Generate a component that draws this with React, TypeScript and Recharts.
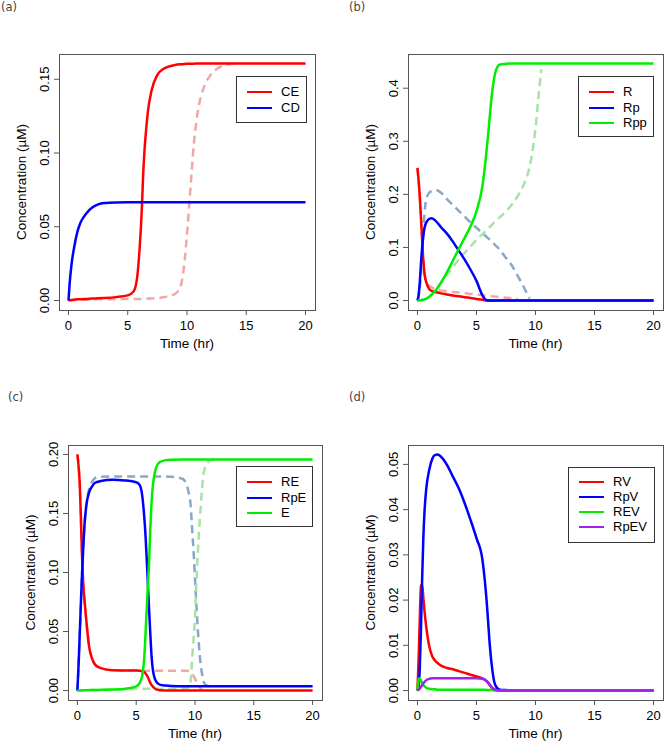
import React from "react";
import { LineChart, Line, XAxis, YAxis, Label } from "recharts";

// ---------- (a) cyclins ----------
const timeA = [0, 0.1, 0.25, 0.5, 0.75, 1, 1.5, 2, 2.5, 3, 4, 5, 5.5, 5.8, 6, 6.1, 6.2, 6.3, 6.4, 6.5, 6.7, 7, 7.5, 8, 9, 9.5, 9.8, 10, 10.2, 10.4, 10.6, 10.8, 11, 11.5, 12, 13, 14, 16, 20];
const ceA = [0, 0.0002, 0.0004, 0.0006, 0.0008, 0.0009, 0.0011, 0.0013, 0.0015, 0.0017, 0.0023, 0.0035, 0.0062, 0.016, 0.035, 0.048, 0.064, 0.085, 0.1, 0.111, 0.128, 0.142, 0.153, 0.157, 0.1597, 0.1602, 0.1604, 0.1605, 0.1606, 0.1606, 0.1606, 0.1607, 0.1607, 0.1607, 0.1607, 0.1607, 0.1607, 0.1607, 0.1607];
const cdA = [0, 0.0116, 0.024, 0.037, 0.0465, 0.0525, 0.059, 0.063, 0.0652, 0.0661, 0.0665, 0.0666, 0.0666, 0.0666, 0.0666, 0.0666, 0.0666, 0.0666, 0.0666, 0.0666, 0.0666, 0.0666, 0.0666, 0.0666, 0.0666, 0.0666, 0.0666, 0.0666, 0.0666, 0.0666, 0.0666, 0.0666, 0.0666, 0.0666, 0.0666, 0.0666, 0.0666, 0.0666, 0.0666];
const ceDashA = [0, 0.0001, 0.0002, 0.0003, 0.0004, 0.0005, 0.0006, 0.0007, 0.0008, 0.0008, 0.0009, 0.001, 0.001, 0.0011, 0.0011, 0.0011, 0.0012, 0.0012, 0.0012, 0.0012, 0.0013, 0.0014, 0.0016, 0.0022, 0.0045, 0.011, 0.027, 0.045, 0.066, 0.088, 0.108, 0.122, 0.132, 0.146, 0.153, 0.159, 0.1606, null, null];

// ---------- (b) receptor ----------
const timeB = [0, 0.1, 0.2, 0.3, 0.4, 0.5, 0.6, 0.8, 1, 1.2, 1.5, 2, 2.5, 3, 3.5, 4, 4.5, 5, 5.5, 5.8, 6, 6.2, 6.4, 6.6, 6.8, 7, 7.5, 8, 8.5, 9, 9.3, 9.5, 9.7, 10, 10.3, 10.5, 12, 15, 20];
const rB = [0.25, 0.226, 0.195, 0.155, 0.113, 0.075, 0.05, 0.031, 0.0214, 0.018, 0.016, 0.0135, 0.0115, 0.0095, 0.008, 0.0063, 0.0047, 0.003, 0.0013, 0.0004, 0, 0, 0, 0, 0, 0, 0, 0, 0, 0, 0, 0, 0, 0, 0, 0, 0, 0, 0];
const rpB = [0, 0.01, 0.035, 0.07, 0.1, 0.122, 0.137, 0.149, 0.154, 0.155, 0.151, 0.138, 0.126, 0.111, 0.094, 0.077, 0.058, 0.037, 0.01, 0.001, 0, 0, 0, 0, 0, 0, 0, 0, 0, 0, 0, 0, 0, 0, 0, 0, 0, 0, 0];
const rppB = [0, 0.0001, 0.0003, 0.0006, 0.001, 0.0015, 0.0022, 0.004, 0.007, 0.011, 0.018, 0.034, 0.053, 0.075, 0.097, 0.118, 0.14, 0.168, 0.215, 0.27, 0.315, 0.365, 0.405, 0.43, 0.441, 0.4447, 0.446, 0.4465, 0.4466, 0.4466, 0.4466, 0.4466, 0.4466, 0.4466, 0.4466, 0.4466, 0.4466, 0.4466, 0.4466];
const rDashB = [0.25, 0.226, 0.195, 0.155, 0.113, 0.075, 0.051, 0.034, 0.028, 0.025, 0.021, 0.019, 0.0175, 0.0162, 0.015, 0.0138, 0.0125, 0.0113, 0.01, 0.0093, 0.0088, 0.0083, 0.0078, 0.0074, 0.007, 0.0065, 0.0054, 0.0042, 0.0028, null, null, null, null, null, null, null, null, null, null];
const rpDashB = [0, 0.008, 0.025, 0.05, 0.09, 0.13, 0.165, 0.195, 0.203, 0.206, 0.2085, 0.203, 0.191, 0.18, 0.169, 0.158, 0.147, 0.137, 0.127, 0.121, 0.117, 0.113, 0.109, 0.104, 0.1, 0.095, 0.08, 0.066, 0.046, 0.026, 0.012, 0.004, null, null, null, null, null, null, null];
const rppDashB = [0, 0.0001, 0.0003, 0.0006, 0.001, 0.0015, 0.0022, 0.004, 0.007, 0.011, 0.018, 0.033, 0.048, 0.063, 0.077, 0.09, 0.102, 0.114, 0.125, 0.131, 0.136, 0.14, 0.145, 0.149, 0.153, 0.157, 0.168, 0.181, 0.197, 0.218, 0.235, 0.252, 0.275, 0.325, 0.395, 0.436, null, null, null];

// ---------- (c) receptor-effector ----------
const timeC = [0, 0.1, 0.2, 0.3, 0.4, 0.5, 0.6, 0.75, 1, 1.25, 1.5, 2, 3, 4, 5, 5.3, 5.5, 5.7, 5.8, 5.9, 6, 6.1, 6.2, 6.3, 6.4, 6.5, 6.7, 7, 7.5, 8, 9, 9.3, 9.5, 9.6, 9.7, 9.8, 9.9, 10, 10.1, 10.2, 10.3, 10.4, 10.5, 10.6, 10.7, 10.8, 11, 11.5, 12, 14, 17, 20];
const reC = [0.2, 0.19, 0.175, 0.145, 0.112, 0.09, 0.077, 0.06, 0.037, 0.027, 0.022, 0.019, 0.0172, 0.017, 0.0169, 0.0168, 0.0165, 0.0155, 0.0145, 0.013, 0.011, 0.0088, 0.0065, 0.0048, 0.0035, 0.0025, 0.001, 0.0003, 0.0001, 0, 0, 0, 0, 0, 0, 0, 0, 0, 0, 0, 0, 0, 0, 0, 0, 0, 0, 0, 0, 0, 0, 0];
const rpeC = [0, 0.022, 0.048, 0.075, 0.1, 0.122, 0.14, 0.156, 0.168, 0.173, 0.176, 0.1775, 0.1785, 0.178, 0.1765, 0.174, 0.166, 0.145, 0.13, 0.11, 0.089, 0.068, 0.048, 0.03, 0.019, 0.013, 0.0075, 0.005, 0.0042, 0.0038, 0.0036, 0.0036, 0.0036, 0.0036, 0.0036, 0.0036, 0.0036, 0.0036, 0.0036, 0.0036, 0.0036, 0.0036, 0.0036, 0.0036, 0.0036, 0.0036, 0.0036, 0.0036, 0.0036, 0.0036, 0.0036, 0.0036];
const eC = [0, 0, 0.0001, 0.0001, 0.0002, 0.0002, 0.0003, 0.0003, 0.0004, 0.0005, 0.0005, 0.0006, 0.0008, 0.0014, 0.0035, 0.0065, 0.012, 0.03, 0.05, 0.07, 0.09, 0.11, 0.137, 0.158, 0.172, 0.18, 0.189, 0.1935, 0.1952, 0.1956, 0.1958, 0.1958, 0.1958, 0.1958, 0.1958, 0.1958, 0.1958, 0.1958, 0.1958, 0.1958, 0.1958, 0.1958, 0.1958, 0.1958, 0.1958, 0.1958, 0.1958, 0.1958, 0.1958, 0.1958, 0.1958, 0.1958];
const reDashC = [0.2, 0.19, 0.175, 0.145, 0.112, 0.09, 0.077, 0.06, 0.037, 0.027, 0.022, 0.019, 0.0172, 0.017, 0.0169, 0.0168, 0.0168, 0.0168, 0.0168, 0.0168, 0.0168, 0.0168, 0.0168, 0.0168, 0.0168, 0.0168, 0.0168, 0.0168, 0.0168, 0.0168, 0.0168, 0.0168, 0.0166, 0.016, 0.015, 0.0135, 0.012, 0.0102, 0.008, 0.006, 0.0045, 0.003, 0.0015, 0.0006, null, null, null, null, null, null, null, null];
const rpeDashC = [0, 0.022, 0.048, 0.075, 0.1, 0.122, 0.14, 0.157, 0.171, 0.177, 0.18, 0.1812, 0.1814, 0.1814, 0.1814, 0.1814, 0.1814, 0.1814, 0.1814, 0.1814, 0.1814, 0.1814, 0.1814, 0.1814, 0.1814, 0.1814, 0.1814, 0.1814, 0.1814, 0.1812, 0.179, 0.1738, 0.166, 0.16, 0.146, 0.13, 0.114, 0.095, 0.076, 0.058, 0.043, 0.03, 0.021, 0.014, 0.009, 0.006, 0.0042, 0.0037, null, null, null, null];
const eDashC = [0, 0, 0.0001, 0.0001, 0.0002, 0.0002, 0.0003, 0.0003, 0.0004, 0.0005, 0.0005, 0.0006, 0.0008, 0.0012, 0.0015, 0.0015, 0.0015, 0.0015, 0.0015, 0.0015, 0.0015, 0.0015, 0.0015, 0.0015, 0.0015, 0.0015, 0.0015, 0.0015, 0.0015, 0.0015, 0.0018, 0.002, 0.0028, 0.0045, 0.018, 0.033, 0.046, 0.062, 0.087, 0.108, 0.128, 0.143, 0.158, 0.171, 0.182, 0.187, 0.1925, 0.1955, 0.1958, null, null, null];

// ---------- (d) receptor-vesicle ----------
const timeD = [0, 0.1, 0.2, 0.3, 0.4, 0.5, 0.6, 0.75, 1, 1.25, 1.5, 1.7, 2, 2.5, 3, 3.5, 4, 4.5, 5, 5.5, 5.7, 5.9, 6.1, 6.3, 6.5, 6.7, 7, 7.5, 8, 10, 15, 20];
const rvD = [0, 0.007, 0.016, 0.0232, 0.0234, 0.0205, 0.0175, 0.014, 0.0098, 0.0076, 0.0066, 0.0061, 0.0055, 0.005, 0.0047, 0.0043, 0.0039, 0.0035, 0.0031, 0.0027, 0.0024, 0.002, 0.0013, 0.0006, 0.0002, 0.0001, 0, 0, 0, 0, 0, 0];
const rpvD = [0, 0.001, 0.005, 0.0138, 0.0249, 0.0337, 0.0396, 0.0447, 0.0488, 0.0512, 0.0521, 0.0522, 0.0517, 0.0499, 0.0473, 0.0447, 0.0414, 0.0377, 0.0337, 0.029, 0.0245, 0.0185, 0.011, 0.0055, 0.002, 0.0007, 0.0002, 0.0001, 0, 0, 0, 0];
const revD = [0, 0.0025, 0.0027, 0.0022, 0.0017, 0.0012, 0.0009, 0.0006, 0.0004, 0.0003, 0.0003, 0.0002, 0.0002, 0.0002, 0.0002, 0.0002, 0.0002, 0.0002, 0.0002, 0.0002, 0.0002, 0.0001, 0.0001, 0.0001, 0, 0, 0, 0, 0, 0, 0, 0];
const rpevD = [0, 0.0002, 0.0004, 0.0008, 0.0012, 0.0016, 0.0019, 0.0023, 0.0026, 0.0027, 0.0027, 0.0027, 0.0027, 0.0027, 0.0027, 0.0027, 0.0027, 0.0027, 0.0027, 0.0026, 0.0024, 0.002, 0.0014, 0.0007, 0.0003, 0.0001, 0, 0, 0, 0, 0, 0];

const xTicks = [0, 5, 10, 15, 20];
const yTicksA = [0, 0.05, 0.1, 0.15];
const yTicksB = [0, 0.1, 0.2, 0.3, 0.4];
const yTicksC = [0, 0.05, 0.1, 0.15, 0.2];
const yTicksD = [0, 0.01, 0.02, 0.03, 0.04, 0.05];

const FONT = '"Liberation Sans", Arial, Helvetica, sans-serif';
const AXIS = "#555";
const RED = "#ff0000";
const BLUE = "#0000ff";
const GREEN = "#00ee00";
const PURPLE = "#a020f0";
const RED_FADED = "#f2a7a7";
const BLUE_FADED = "#88a8c8";
const GREEN_FADED = "#a6e3a6";

const Y_W = 60;
const X_H = 50;
const PAD = 3;

type Series = {
  name: string;
  values: (number | null)[];
  color: string;
  dashed?: boolean;
};

type LegendBox = { x: number; y: number; w: number; h: number; rows: number[] };

type PanelProps = {
  tag: string;
  tagX: number;
  tagY: number;
  boxX: number;
  boxY: number;
  boxW: number;
  boxH: number;
  time: number[];
  series: Series[];
  yTicks: number[];
  yDigits: number;
  legend: LegendBox;
};

const Panel = ({ tag, tagX, tagY, boxX, boxY, boxW, boxH, time, series, yTicks, yDigits, legend }: PanelProps) => {
  const rows = time.map((t, i) => {
    const row: Record<string, number | null> = { t };
    series.forEach((s, k) => {
      row["s" + k] = s.values[i];
    });
    return row;
  });
  // R-style 4% extension of the data range
  const tMin = Math.min(...time);
  const tMax = Math.max(...time);
  const xDomain: [number, number] = [tMin - 0.04 * (tMax - tMin), tMax + 0.04 * (tMax - tMin)];
  const all = series.flatMap((s) => s.values.filter((v): v is number => v !== null));
  const vMin = Math.min(...all);
  const vMax = Math.max(...all);
  const yDomain: [number, number] = [vMin - 0.04 * (vMax - vMin), vMax + 0.04 * (vMax - vMin)];

  const solid = series.filter((s) => !s.dashed);

  return (
    <>
      <div
        style={{
          position: "absolute",
          left: tagX,
          top: tagY - 10,
          fontFamily: '"DejaVu Sans", sans-serif',
          fontSize: 11.5,
          lineHeight: "12px",
          color: "#444",
        }}
      >
        {tag}
      </div>
      <div style={{ position: "absolute", left: boxX - Y_W, top: boxY - PAD }}>
        <LineChart
          width={Y_W + boxW + PAD}
          height={PAD + boxH + X_H}
          data={rows}
          margin={{ top: PAD, right: PAD, bottom: 0, left: 0 }}
        >
          <XAxis
            dataKey="t"
            type="number"
            domain={xDomain}
            allowDataOverflow
            ticks={xTicks}
            interval={0}
            height={X_H}
            axisLine={false}
            tickLine={{ stroke: AXIS }}
            tickSize={5}
            tick={(p: any) => (
              <text x={p.x} y={p.y + 12.5} textAnchor="middle" fontSize={13} fontFamily={FONT} fill="#000">
                {p.payload.value}
              </text>
            )}
          >
            <Label
              content={() => (
                <text x={Y_W + boxW / 2} y={PAD + boxH + 38} textAnchor="middle" fontSize={13.5} fontFamily={FONT} fill="#000">
                  Time (hr)
                </text>
              )}
            />
          </XAxis>
          <YAxis
            type="number"
            domain={yDomain}
            allowDataOverflow
            ticks={yTicks}
            interval={0}
            width={Y_W}
            axisLine={false}
            tickLine={{ stroke: AXIS }}
            tickSize={5}
            tick={(p: any) => {
              const bx = p.x - 3;
              return (
                <text
                  x={bx}
                  y={p.y}
                  transform={`rotate(-90 ${bx} ${p.y})`}
                  textAnchor="middle"
                  fontSize={13}
                  fontFamily={FONT}
                  fill="#000"
                >
                  {Number(p.payload.value).toFixed(yDigits)}
                </text>
              );
            }}
          >
            <Label
              content={() => {
                const bx = Y_W - 33;
                const by = PAD + boxH / 2;
                return (
                  <text
                    x={bx}
                    y={by}
                    transform={`rotate(-90 ${bx} ${by})`}
                    textAnchor="middle"
                    fontSize={13.5}
                    fontFamily={FONT}
                    fill="#000"
                  >
                    Concentration (µM)
                  </text>
                );
              }}
            />
          </YAxis>
          {series.map((s, k) => (
            <Line
              key={s.name + k}
              dataKey={"s" + k}
              type="monotone"
              stroke={s.color}
              strokeWidth={2.5}
              strokeDasharray={s.dashed ? "8 5" : undefined}
              dot={false}
              activeDot={false}
              connectNulls={false}
              isAnimationActive={false}
            />
          ))}
        </LineChart>
      </div>
      {/* plot frame, like R's box() */}
      <div
        style={{
          position: "absolute",
          left: boxX,
          top: boxY,
          width: boxW + 1,
          height: boxH + 1,
          border: `1px solid ${AXIS}`,
          boxSizing: "border-box",
          pointerEvents: "none",
        }}
      />
      <div
        style={{
          position: "absolute",
          left: legend.x,
          top: legend.y,
          width: legend.w,
          height: legend.h,
          border: "1px solid #333",
          boxSizing: "border-box",
          background: "#fff",
        }}
      >
        {solid.map((s, i) => (
          <React.Fragment key={s.name}>
            <div
              style={{
                position: "absolute",
                left: 10,
                top: legend.rows[i] - 1,
                width: 25,
                height: 2,
                background: s.color,
              }}
            />
            <div
              style={{
                position: "absolute",
                left: 44,
                top: legend.rows[i] - 8,
                fontFamily: FONT,
                fontSize: 13,
                lineHeight: "16px",
                color: "#000",
                whiteSpace: "nowrap",
              }}
            >
              {s.name}
            </div>
          </React.Fragment>
        ))}
      </div>
    </>
  );
};

export default function App() {
  return (
    <div
      style={{
        position: "absolute",
        left: 0,
        top: 0,
        width: 664,
        height: 742,
        overflow: "hidden",
        background: "#fff",
      }}
    >
      <Panel
        tag="(a)"
        tagX={1}
        tagY={11}
        boxX={59}
        boxY={54}
        boxW={256}
        boxH={256}
        time={timeA}
        series={[
          { name: "CE'", values: ceDashA, color: RED_FADED, dashed: true },
          { name: "CE", values: ceA, color: RED },
          { name: "CD", values: cdA, color: BLUE },
        ]}
        yTicks={yTicksA}
        yDigits={2}
        legend={{ x: 236, y: 76, w: 71, h: 47, rows: [15, 31] }}
      />
      <Panel
        tag="(b)"
        tagX={349}
        tagY={11}
        boxX={408}
        boxY={54}
        boxW={255}
        boxH={256}
        time={timeB}
        series={[
          { name: "R'", values: rDashB, color: RED_FADED, dashed: true },
          { name: "Rp'", values: rpDashB, color: BLUE_FADED, dashed: true },
          { name: "Rpp'", values: rppDashB, color: GREEN_FADED, dashed: true },
          { name: "R", values: rB, color: RED },
          { name: "Rp", values: rpB, color: BLUE },
          { name: "Rpp", values: rppB, color: GREEN },
        ]}
        yTicks={yTicksB}
        yDigits={1}
        legend={{ x: 578, y: 76, w: 76, h: 61, rows: [15, 30.5, 46] }}
      />
      <Panel
        tag="(c)"
        tagX={8}
        tagY={401}
        boxX={68}
        boxY={445}
        boxW={254}
        boxH={255}
        time={timeC}
        series={[
          { name: "RE'", values: reDashC, color: RED_FADED, dashed: true },
          { name: "RpE'", values: rpeDashC, color: BLUE_FADED, dashed: true },
          { name: "E'", values: eDashC, color: GREEN_FADED, dashed: true },
          { name: "RE", values: reC, color: RED },
          { name: "RpE", values: rpeC, color: BLUE },
          { name: "E", values: eC, color: GREEN },
        ]}
        yTicks={yTicksC}
        yDigits={2}
        legend={{ x: 236, y: 466, w: 77, h: 61, rows: [15, 30.5, 46] }}
      />
      <Panel
        tag="(d)"
        tagX={349}
        tagY={401}
        boxX={408}
        boxY={445}
        boxW={255}
        boxH={255}
        time={timeD}
        series={[
          { name: "RV", values: rvD, color: RED },
          { name: "RpV", values: rpvD, color: BLUE },
          { name: "REV", values: revD, color: GREEN },
          { name: "RpEV", values: rpevD, color: PURPLE },
        ]}
        yTicks={yTicksD}
        yDigits={2}
        legend={{ x: 568, y: 467, w: 87, h: 76, rows: [14, 29, 44, 59] }}
      />
    </div>
  );
}
